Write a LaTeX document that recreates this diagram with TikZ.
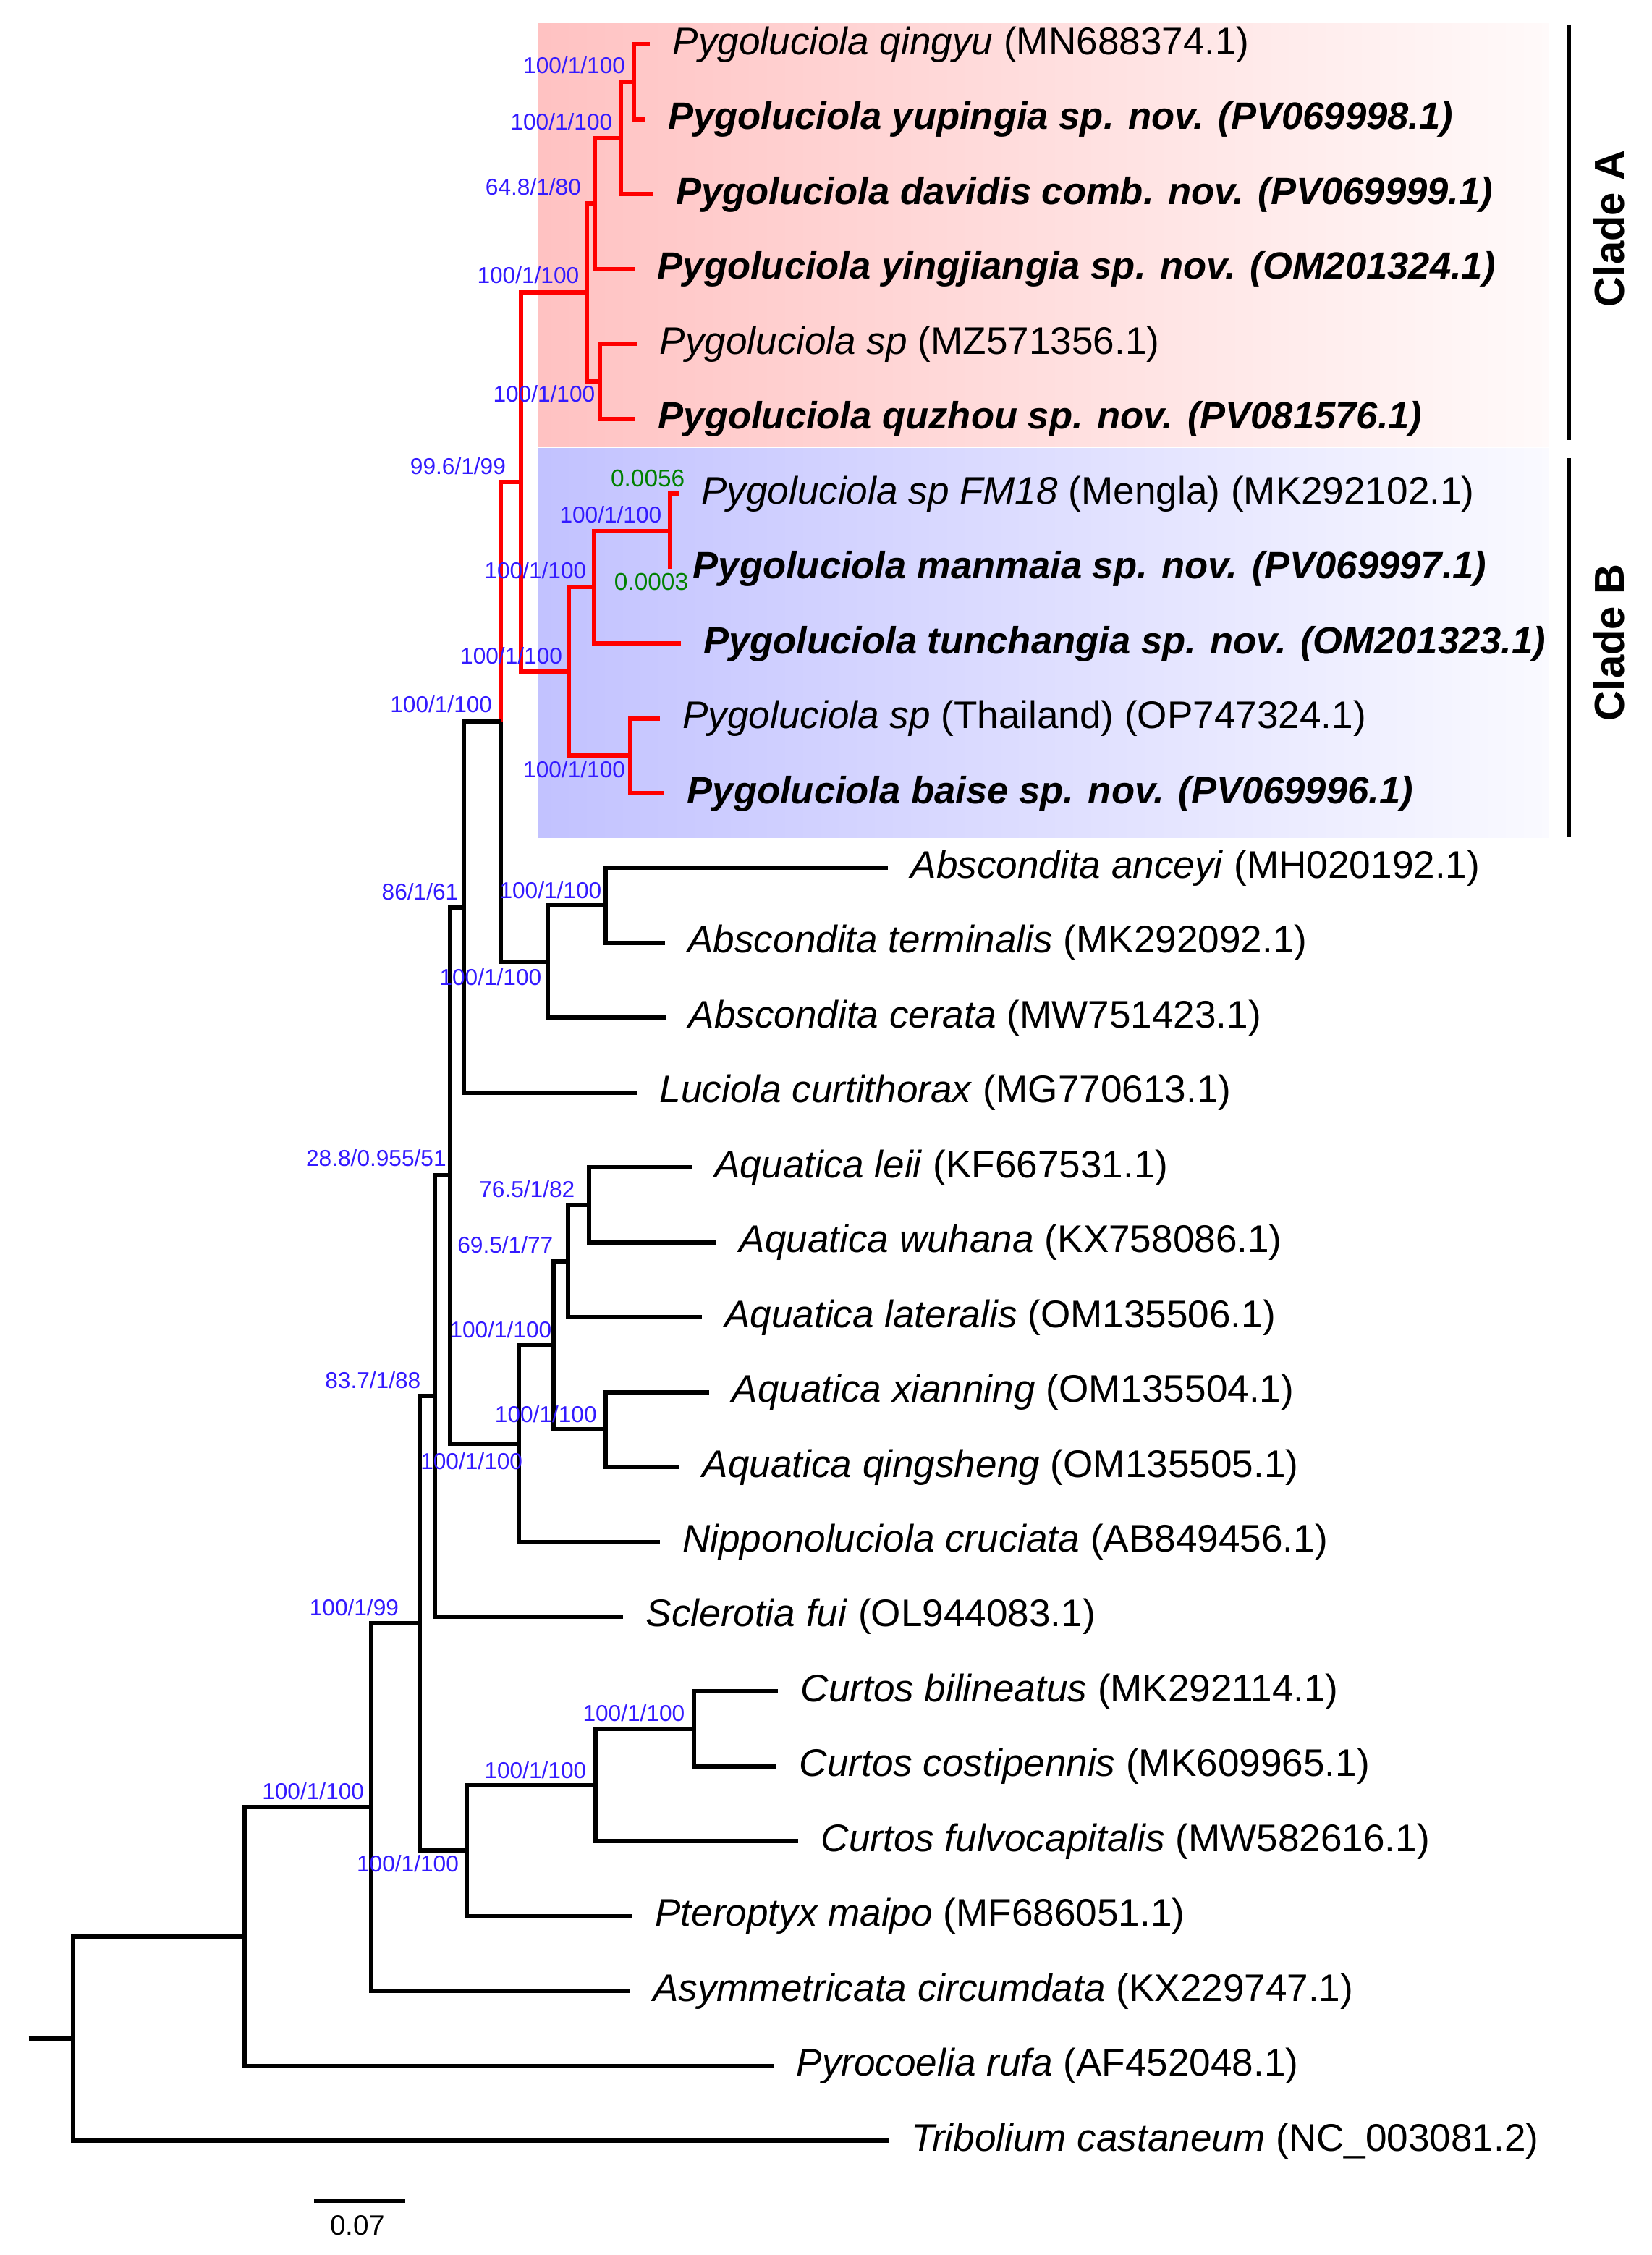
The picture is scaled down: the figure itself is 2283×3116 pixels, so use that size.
\documentclass[tikz,border=0pt]{standalone}
\usepackage{fontspec}
\setmainfont{Liberation Sans}
\usepackage{xcolor}
\usepackage{tikz}
\definecolor{bsblue}{RGB}{51,26,255}
\definecolor{blgreen}{RGB}{0,128,0}

\begin{document}
\begin{tikzpicture}[x=0.01cm, y=-0.01cm,
  branch/.style={line width=1.7pt, black},
  pygo/.style={line width=1.7pt, red},
  taxon/.style={anchor=base west, inner sep=0pt, xshift=0.31cm, yshift=-0.14cm,
    font=\fontsize{15.1}{17}\selectfont},
  newsp/.style={taxon, font=\fontsize{14.95}{17}\selectfont\bfseries\itshape},
  bs/.style={anchor=base east, inner sep=0pt, text=bsblue,
    font=\fontsize{9}{10}\selectfont},
  blen/.style={anchor=base east, inner sep=0pt, text=blgreen,
    font=\fontsize{9.5}{10}\selectfont},
  clade/.style={rotate=90, inner sep=0pt, font=\fontsize{16.5}{18}\selectfont\bfseries},
]
\useasboundingbox (0,0) rectangle (2283,3116);

% --- Clade shading ---
\fill[left color=red!24, right color=red!2] (743,33) rectangle (2140,618);
\fill[left color=blue!24, right color=blue!2] (743,620) rectangle (2140,1157);

% --- Tips ---
\coordinate (t1) at (898,61.5);
\coordinate (t2) at (891.5,164.95);
\coordinate (t3) at (902.7,268.4);
\coordinate (t4) at (877,371.85);
\coordinate (t5) at (880,475.3);
\coordinate (t6) at (878,578.75);
\coordinate (t7) at (937.5,682.2);
\coordinate (t8) at (926,785.65);
\coordinate (t9) at (940.6,889.1);
\coordinate (t10) at (911.6,992.55);
\coordinate (t11) at (918,1096);
\coordinate (t12) at (1227,1199.45);
\coordinate (t13) at (918.75,1302.9);
\coordinate (t14) at (920,1406.35);
\coordinate (t15) at (880,1509.8);
\coordinate (t16) at (955.8,1613.25);
\coordinate (t17) at (990,1716.7);
\coordinate (t18) at (969.6,1820.15);
\coordinate (t19) at (980,1923.6);
\coordinate (t20) at (939,2027.05);
\coordinate (t21) at (911.6,2130.5);
\coordinate (t22) at (861,2233.95);
\coordinate (t23) at (1075,2337.4);
\coordinate (t24) at (1073,2440.85);
\coordinate (t25) at (1103,2544.3);
\coordinate (t26) at (873.7,2647.75);
\coordinate (t27) at (870.5,2751.2);
\coordinate (t28) at (1069,2854.65);
\coordinate (t29) at (1228,2958.1);

% --- Internal nodes ---
\coordinate (nA1) at (876,113.2);
\coordinate (nA2) at (858,190.8);
\coordinate (nA3) at (822,281.3);
\coordinate (nA4) at (829,527);
\coordinate (nA) at (811,404.2);
\coordinate (nB1) at (926,733.9);
\coordinate (nB2) at (821.4,811.5);
\coordinate (nB3) at (871.4,1044.3);
\coordinate (nB) at (785.7,927.9);
\coordinate (nP) at (719.6,666);
\coordinate (nAb1) at (836.6,1251.2);
\coordinate (nAb) at (757,1328.8);
\coordinate (nPA) at (692,997.4);
\coordinate (nL) at (641,1253.6);
\coordinate (nAq1) at (814,1665);
\coordinate (nAq2) at (784.8,1742.6);
\coordinate (nAq3) at (836.6,1975.3);
\coordinate (nAq) at (765,1859);
\coordinate (nN) at (717,1994.8);
\coordinate (nM) at (622,1624.2);
\coordinate (nS) at (601,1929.1);
\coordinate (nC1) at (958.5,2389.1);
\coordinate (nC2) at (822.7,2466.7);
\coordinate (nC) at (645.4,2557.2);
\coordinate (nSC) at (580,2243.2);
\coordinate (nAs) at (513.4,2497.2);
\coordinate (nPy) at (338,2675.9);
\coordinate (root) at (100.8,2817);
\coordinate (stub) at (39.5,2817);

% --- Pygoluciola branches ---
\draw[pygo] (nA1) |- (t1);
\draw[pygo] (nA1) |- (t2);
\draw[pygo] (nA2) |- (nA1);
\draw[pygo] (nA2) |- (t3);
\draw[pygo] (nA3) |- (nA2);
\draw[pygo] (nA3) |- (t4);
\draw[pygo] (nA4) |- (t5);
\draw[pygo] (nA4) |- (t6);
\draw[pygo] (nA) |- (nA3);
\draw[pygo] (nA) |- (nA4);
\draw[pygo] (nB1) |- (t7);
\draw[pygo] (nB1) |- (t8);
\draw[pygo] (nB2) |- (nB1);
\draw[pygo] (nB2) |- (t9);
\draw[pygo] (nB3) |- (t10);
\draw[pygo] (nB3) |- (t11);
\draw[pygo] (nB) |- (nB2);
\draw[pygo] (nB) |- (nB3);
\draw[pygo] (nP) |- (nA);
\draw[pygo] (nP) |- (nB);
\draw[pygo] (nPA) |- (nP);

% --- Other branches ---
\draw[branch] (nAb1) |- (t12);
\draw[branch] (nAb1) |- (t13);
\draw[branch] (nAb) |- (nAb1);
\draw[branch] (nAb) |- (t14);
\draw[branch] (nPA) |- (nAb);
\draw[branch] (nL) |- (nPA);
\draw[branch] (nL) |- (t15);
\draw[branch] (nAq1) |- (t16);
\draw[branch] (nAq1) |- (t17);
\draw[branch] (nAq2) |- (nAq1);
\draw[branch] (nAq2) |- (t18);
\draw[branch] (nAq3) |- (t19);
\draw[branch] (nAq3) |- (t20);
\draw[branch] (nAq) |- (nAq2);
\draw[branch] (nAq) |- (nAq3);
\draw[branch] (nN) |- (nAq);
\draw[branch] (nN) |- (t21);
\draw[branch] (nM) |- (nL);
\draw[branch] (nM) |- (nN);
\draw[branch] (nS) |- (nM);
\draw[branch] (nS) |- (t22);
\draw[branch] (nC1) |- (t23);
\draw[branch] (nC1) |- (t24);
\draw[branch] (nC2) |- (nC1);
\draw[branch] (nC2) |- (t25);
\draw[branch] (nC) |- (nC2);
\draw[branch] (nC) |- (t26);
\draw[branch] (nSC) |- (nS);
\draw[branch] (nSC) |- (nC);
\draw[branch] (nAs) |- (nSC);
\draw[branch] (nAs) |- (t27);
\draw[branch] (nPy) |- (nAs);
\draw[branch] (nPy) |- (t28);
\draw[branch] (root) |- (nPy);
\draw[branch] (root) |- (t29);
\draw[branch] (stub) -- (root);

% --- Taxon labels ---
\node[taxon] (L1) at (t1) {\textit{Pygoluciola qingyu} (MN688374.1)};
\node[newsp] (L2) at (t2) {Pygoluciola yupingia sp. nov. (PV069998.1)};
\node[newsp] (L3) at (t3) {Pygoluciola davidis comb. nov. (PV069999.1)};
\node[newsp] (L4) at (t4) {Pygoluciola yingjiangia sp. nov. (OM201324.1)};
\node[taxon] (L5) at (t5) {\textit{Pygoluciola sp} (MZ571356.1)};
\node[newsp] (L6) at (t6) {Pygoluciola quzhou sp. nov. (PV081576.1)};
\node[taxon] (L7) at (t7) {\textit{Pygoluciola sp FM18} (Mengla) (MK292102.1)};
\node[newsp] (L8) at (t8) {Pygoluciola manmaia sp. nov. (PV069997.1)};
\node[newsp] (L9) at (t9) {Pygoluciola tunchangia sp. nov. (OM201323.1)};
\node[taxon] (L10) at (t10) {\textit{Pygoluciola sp} (Thailand) (OP747324.1)};
\node[newsp] (L11) at (t11) {Pygoluciola baise sp. nov. (PV069996.1)};
\node[taxon] (L12) at (t12) {\textit{Abscondita anceyi} (MH020192.1)};
\node[taxon] (L13) at (t13) {\textit{Abscondita terminalis} (MK292092.1)};
\node[taxon] (L14) at (t14) {\textit{Abscondita cerata} (MW751423.1)};
\node[taxon] (L15) at (t15) {\textit{Luciola curtithorax} (MG770613.1)};
\node[taxon] (L16) at (t16) {\textit{Aquatica leii} (KF667531.1)};
\node[taxon] (L17) at (t17) {\textit{Aquatica wuhana} (KX758086.1)};
\node[taxon] (L18) at (t18) {\textit{Aquatica lateralis} (OM135506.1)};
\node[taxon] (L19) at (t19) {\textit{Aquatica xianning} (OM135504.1)};
\node[taxon] (L20) at (t20) {\textit{Aquatica qingsheng} (OM135505.1)};
\node[taxon] (L21) at (t21) {\textit{Nipponoluciola cruciata} (AB849456.1)};
\node[taxon] (L22) at (t22) {\textit{Sclerotia fui} (OL944083.1)};
\node[taxon] (L23) at (t23) {\textit{Curtos bilineatus} (MK292114.1)};
\node[taxon] (L24) at (t24) {\textit{Curtos costipennis} (MK609965.1)};
\node[taxon] (L25) at (t25) {\textit{Curtos fulvocapitalis} (MW582616.1)};
\node[taxon] (L26) at (t26) {\textit{Pteroptyx maipo} (MF686051.1)};
\node[taxon] (L27) at (t27) {\textit{Asymmetricata circumdata} (KX229747.1)};
\node[taxon] (L28) at (t28) {\textit{Pyrocoelia rufa} (AF452048.1)};
\node[taxon] (L29) at (t29) {\textit{Tribolium castaneum} (NC\_003081.2)};

% --- Node support ---
\node[bs] (b1) at (864.7,101.6) {100/1/100};
\node[bs] (b2) at (847,180) {100/1/100};
\node[bs] (b3) at (803.6,270) {64.8/1/80};
\node[bs] (b4) at (801,392) {100/1/100};
\node[bs] (b5) at (823,555.6) {100/1/100};
\node[bs] (b6) at (699.6,655.5) {99.6/1/99};
\node[bs] (b7) at (915,723) {100/1/100};
\node[bs] (b8) at (811,800) {100/1/100};
\node[bs] (b9) at (777.7,917.6) {100/1/100};
\node[bs] (b10) at (864.7,1074.5) {100/1/100};
\node[bs] (b11) at (680.8,984.6) {100/1/100};
\node[bs] (b12) at (832,1241.8) {100/1/100};
\node[bs] (b13) at (749,1361) {100/1/100};
\node[bs] (b14) at (634,1243.8) {86/1/61};
\node[bs] (b15) at (617.4,1611) {28.8/0.955/51};
\node[bs] (b16) at (795,1654.4) {76.5/1/82};
\node[bs] (b17) at (765,1731.7) {69.5/1/77};
\node[bs] (b18) at (763,1848) {100/1/100};
\node[bs] (b19) at (825.4,1965) {100/1/100};
\node[bs] (b20) at (722.8,2030) {100/1/100};
\node[bs] (b21) at (582,1918) {83.7/1/88};
\node[bs] (b22) at (551.7,2232) {100/1/99};
\node[bs] (b23) at (947,2378) {100/1/100};
\node[bs] (b24) at (811,2457) {100/1/100};
\node[bs] (b25) at (634.6,2586.7) {100/1/100};
\node[bs] (b26) at (503.8,2486) {100/1/100};

% branch lengths
\node[blen] (len1) at (947,672.7) {0.0056};
\node[blen] (len2) at (951.8,816) {0.0003};

% --- Clade bars ---
\coordinate (caT) at (2168,34);
\coordinate (caB) at (2168,608);
\coordinate (cbT) at (2168,633.5);
\coordinate (cbB) at (2168,1157);
\draw[line width=1.8pt] (caT) -- (caB);
\draw[line width=1.8pt] (cbT) -- (cbB);
\node[clade] (cladeA) at (2224,316) {Clade A};
\node[clade] (cladeB) at (2224,888) {Clade B};

% --- Scale bar ---
\coordinate (sbL) at (433.7,3041);
\coordinate (sbR) at (560,3041);
\draw[branch] (sbL) -- (sbR);
\node[anchor=base, inner sep=0pt, font=\fontsize{11}{12}\selectfont] (sbText) at (494,3088) {0.07};
\end{tikzpicture}
\end{document}
